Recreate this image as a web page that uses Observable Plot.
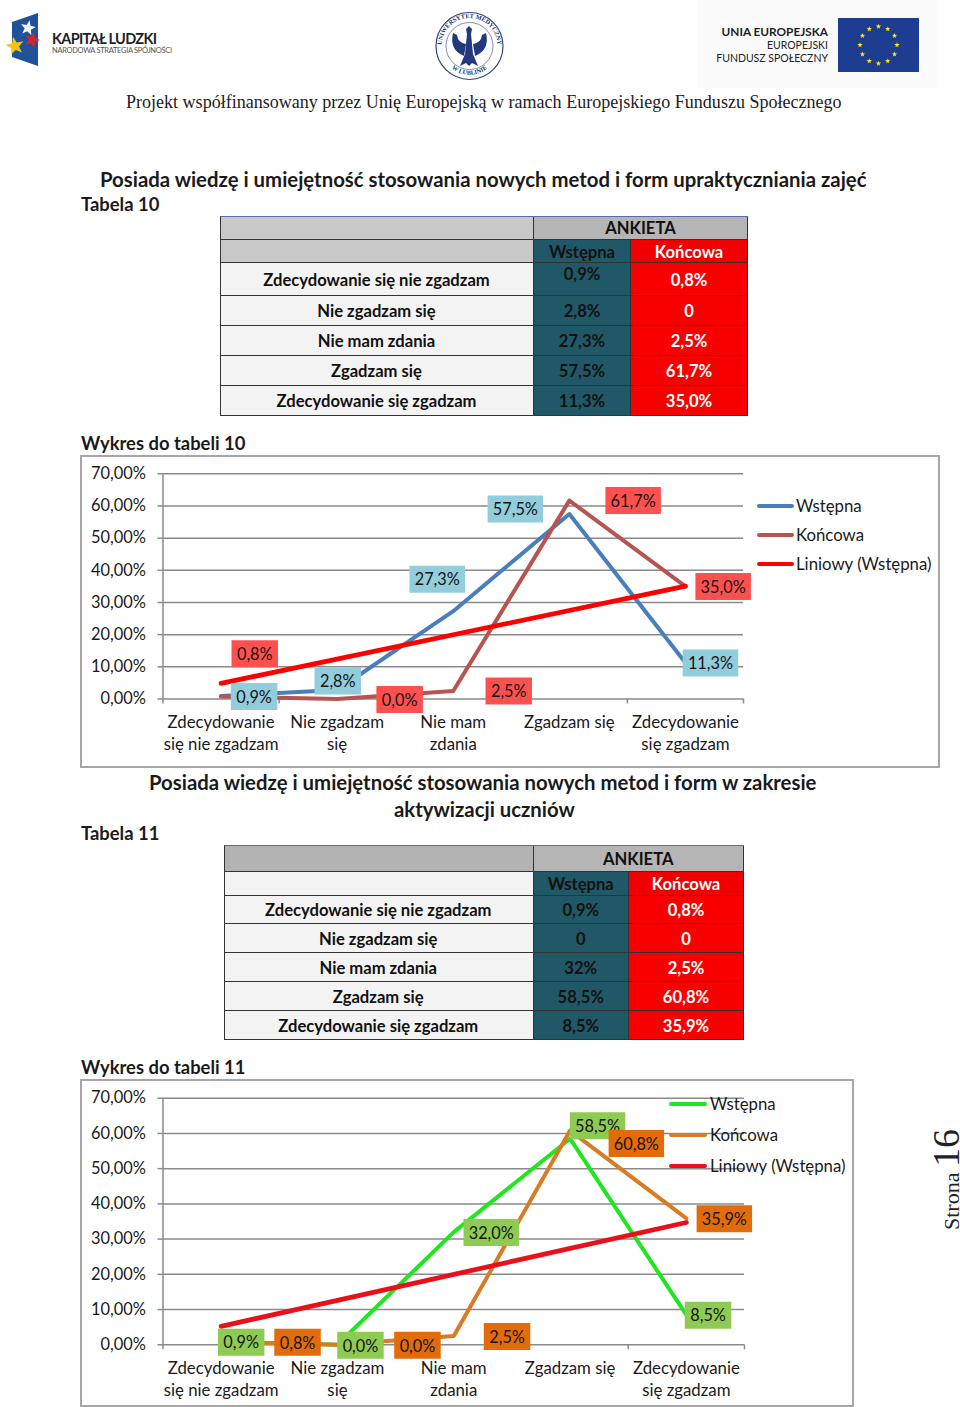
<!DOCTYPE html>
<html lang="pl"><head><meta charset="utf-8">
<script src="https://cdn.jsdelivr.net/npm/d3@7"></script>
<script src="https://cdn.jsdelivr.net/npm/@observablehq/plot@0.6"></script>
<style>
html,body{margin:0;padding:0;background:#fff}
#page{position:relative;width:960px;height:1407px;overflow:hidden;font-family:Lato,sans-serif;color:#1a1a1a}
.t{position:absolute;white-space:nowrap;line-height:1}
.b{font-weight:700}
.c{position:absolute;display:flex;align-items:center;justify-content:center;font-weight:700;font-size:16.6px;box-sizing:border-box}
.frame{position:absolute;border:2px solid #a6a6a6;box-sizing:border-box;background:#fff}
</style></head><body><div id="page"></div>
<script>
// ---- data ----
const categories = ["Zdecydowanie\nsię nie zgadzam","Nie zgadzam\nsię","Nie mam\nzdania","Zgadzam się","Zdecydowanie\nsię zgadzam"];
const rowNames = ["Zdecydowanie się nie zgadzam","Nie zgadzam się","Nie mam zdania","Zgadzam się","Zdecydowanie się zgadzam"];
const yTicks = [0,10,20,30,40,50,60,70];
const wstepna10 = [0.9,2.8,27.3,57.5,11.3];
const koncowa10 = [0.8,0,2.5,61.7,35.0];
const wstepna11 = [0.9,0,32,58.5,8.5];
const koncowa11 = [0.8,0,2.5,60.8,35.9];
const table10W = ["0,9%","2,8%","27,3%","57,5%","11,3%"];
const table10K = ["0,8%","0","2,5%","61,7%","35,0%"];
const table11W = ["0,9%","0","32%","58,5%","8,5%"];
const table11K = ["0,8%","0","2,5%","60,8%","35,9%"];
const seriesNames = ["Wstępna","Końcowa","Liniowy (Wstępna)"];
// label placement, px away from each data point
const offW10 = [[33,0.5],[0.6,-9],[-16,-32],[-54,-5],[25,0.4]];
const offK10 = [[33.7,-42.6],[62.5,0.5],[55.5,0],[63.8,0],[37.7,0]];
const offW11 = [[20,0.5],[23,0.5],[37.5,0.5],[27.5,-13],[21.7,0.4]];
const offK11 = [[76.4,0.3],[80,0.5],[53.3,0.5],[66.3,13],[38,0.5]];

const page = document.getElementById("page");
const el = (html)=>{const d=document.createElement("div");d.innerHTML=html;const n=d.firstElementChild;page.appendChild(n);return n;};
const text = (s,x,y,size,cls="",extra="")=>el(`<div class="t ${cls}" style="left:${x}px;top:${y}px;font-size:${size}px;${extra}">${s}</div>`);

// ---- header ----
const starPath=(cx,cy,R,rot=0)=>"M"+d3.range(10).map(i=>{const r=i%2?R*0.42:R,a=rot+i*Math.PI/5;return `${(cx+r*Math.sin(a)).toFixed(1)} ${(cy-r*Math.cos(a)).toFixed(1)}`}).join("L")+"Z";
const stars = d3.range(12).map(i=>{const a=i*Math.PI/6;return `<path d="${starPath(878.5+18.5*Math.sin(a),45+18.5*Math.cos(a),2.8)}" fill="#ffe500"/>`}).join("");
el(`<svg style="position:absolute;left:0;top:0" width="960" height="92" xmlns="http://www.w3.org/2000/svg">
<rect x="697" y="0" width="241" height="88" fill="#fbfbfb"/>
<path d="M12 22L38 13V66L12 57Z" fill="#1f5298"/>
<path d="${starPath(28,28,8,0.2)}" fill="#f4f4f4"/>
<path d="${starPath(32,40,8,0.3)}" fill="#d8232a"/>
<path d="${starPath(15,46,9.5,-0.2)}" fill="#f2c21a"/>
<text x="52" y="43.5" font-family="Lato" font-weight="700" font-size="14.5" fill="#222" textLength="105">KAPITAŁ LUDZKI</text>
<text x="52" y="53" font-family="Lato" font-size="7.5" fill="#555" textLength="120">NARODOWA STRATEGIA SPÓJNOŚCI</text>
<circle cx="469.5" cy="46" r="33.5" fill="#fff" stroke="#33457f" stroke-width="1.2"/>
<circle cx="469.5" cy="46" r="23.5" fill="none" stroke="#33457f" stroke-width="0.6"/>
<path id="ringT" d="M443 55a28 28 0 1 1 53 0" fill="none"/>
<path id="ringB" d="M449 66a28.5 28.5 0 0 0 41 0" fill="none"/>
<text font-family="Liberation Serif" font-size="6.3" font-weight="700" fill="#22356f"><textPath href="#ringT" startOffset="50%" text-anchor="middle">UNIWERSYTET MEDYCZNY</textPath></text>
<text font-family="Liberation Serif" font-size="6.3" font-weight="700" fill="#22356f"><textPath href="#ringB" startOffset="50%" text-anchor="middle" dy="5">W LUBLINIE</textPath></text>
<path d="M453 33Q449 50 464 56L466 44Q458 43 457 35ZM486 33Q490 50 475 56L473 44Q481 43 482 35Z" fill="#24397d"/>
<path d="M469 26l3 3-1 5 2 20 5 12-6-3-3 3-3-3-6 3 5-12 2-20-1-5z" fill="#24397d"/>
<text x="828" y="36" text-anchor="end" font-family="Lato" font-weight="700" font-size="11.8" fill="#222">UNIA EUROPEJSKA</text>
<text x="828" y="49" text-anchor="end" font-family="Lato" font-size="10.5" fill="#222">EUROPEJSKI</text>
<text x="828" y="62" text-anchor="end" font-family="Lato" font-size="10.5" fill="#222">FUNDUSZ SPOŁECZNY</text>
<rect x="838" y="18" width="81" height="54" fill="#1c3d91"/>${stars}
</svg>`);
text("Projekt współfinansowany przez Unię Europejską w ramach Europejskiego Funduszu Społecznego",126,93,18.05,"","font-family:'Liberation Serif';color:#222");

// ---- headings ----
text("Posiada wiedzę i umiejętność stosowania nowych metod i form upraktyczniania zajęć",100,168.5,20.35,"b");
text("Tabela 10",81,195,18.4,"b");
text("Wykres do tabeli 10",81,434,18.4,"b");
text("Posiada wiedzę i umiejętność stosowania nowych metod i form w zakresie",149,772,20.35,"b");
text("aktywizacji uczniów",394,799,20.35,"b");
text("Tabela 11",81,824,18.4,"b");
text("Wykres do tabeli 11",81,1058,18.4,"b");
el(`<svg style="position:absolute;left:920px;top:1100px" width="40" height="140" xmlns="http://www.w3.org/2000/svg"><text transform="translate(38.5,130) rotate(-90)" font-family="Liberation Serif" fill="#222"><tspan font-size="22">Strona </tspan><tspan font-size="38">16</tspan></text></svg>`);

// ---- tables ----
function table(xs, ys, gray, w, k, nudge){
  const cell=(x0,x1,y0,y1,bg,fg,txt,pad=0)=>el(`<div class="c" style="left:${x0}px;top:${y0}px;width:${x1-x0}px;height:${y1-y0}px;background:${bg};color:${fg};border-bottom:1.3px solid #333;border-right:1px solid #333;padding-top:${pad?0:1.5}px;padding-bottom:${pad}px">${txt}</div>`);
  cell(xs[0],xs[1],ys[0],ys[1],gray,"#111","");
  cell(xs[1],xs[3],ys[0],ys[1],"#b5b5b5","#111","ANKIETA");
  cell(xs[0],xs[1],ys[1],ys[2],gray,"#111","");
  cell(xs[1],xs[2],ys[1],ys[2],"#215867","#111","Wstępna");
  cell(xs[2],xs[3],ys[1],ys[2],"#f00000","#fff","Końcowa");
  rowNames.forEach((n,i)=>{
    cell(xs[0],xs[1],ys[i+2],ys[i+3],"#f3f3f3","#111",n);
    cell(xs[1],xs[2],ys[i+2],ys[i+3],"#215867","#111",w[i],i===0?nudge:0);
    cell(xs[2],xs[3],ys[i+2],ys[i+3],"#f80000","#fff",k[i]);
  });
  el(`<div style="position:absolute;left:${xs[0]}px;top:${ys[0]}px;width:${xs[3]-xs[0]}px;height:${ys[7]-ys[0]}px;border-top:1.8px solid #5c6aa5;border-left:1px solid #333;box-sizing:border-box"></div>`);
}
table([220,534,631,748],[216,239.5,263,296,326,355.5,385.5,415.5],"#c8c8c8",table10W,table10K,10);
table([224,533.5,629,744],[845,871.5,896,924,953,982,1011,1040],"#b3b3b3",table11W,table11K,0);
// pale row beneath the grey header in table 11
el(`<div style="position:absolute;left:225px;top:872px;width:307.5px;height:22.5px;background:#f3f3f3"></div>`);

// ---- charts ----
const fmtY = v=>v.toFixed(2).replace(".",",")+"%";
const fmtL = v=>v.toFixed(1).replace(".",",")+"%";
const box = w=>({draw(ctx){ctx.rect(-w/2,-13.5,w,27);}});
function labelMarks(rows, offs, fill){
  return rows.flatMap((r,i)=>{
    const s=fmtL(r.y), w=s.length>4?55.5:46.5, [dx,dy]=offs[i];
    return [
      Plot.dot([r],{x:"x",y:"y",dx,dy,symbol:box(w),r:1,fill,stroke:"none"}),
      Plot.text([r],{x:"x",y:"y",dx,dy:dy+1,text:()=>s,fontSize:16.3,fill:"#141414"})
    ];
  });
}
function chart({w,k,offW,offK,colW,colK,colT,fillW,fillK,left,top,width,height,mL,mR,mT,mB,pad}){
  const idx=categories.map((_,i)=>i+0.5);
  const rw=w.map((y,i)=>({x:idx[i],y})), rk=k.map((y,i)=>({x:idx[i],y}));
  const svg=Plot.plot({
    width,height,marginLeft:mL,marginRight:mR,marginTop:mT,marginBottom:mB,
    style:{fontFamily:"Lato",fontSize:"16.4px",color:"#1a1a1a",background:"transparent",overflow:"visible"},
    x:{type:"linear",domain:[0,5]},y:{type:"linear",domain:[0,70]},
    marks:[
      Plot.ruleY(yTicks,{stroke:"#8a8a8a",strokeWidth:1.5,strokeOpacity:1}),
      Plot.ruleX([0],{y1:0,y2:70,stroke:"#8a8a8a",strokeWidth:1.5}),
      Plot.axisY({ticks:yTicks,tickFormat:fmtY,tickSize:5,tickPadding:12,stroke:"#8a8a8a",strokeWidth:1.5,label:null,fontSize:16.4,fill:"#1a1a1a"}),
      Plot.axisX({ticks:d3.range(0,6),tickSize:5,tickFormat:()=>"",stroke:"#8a8a8a",strokeWidth:1.5,label:null}),
      Plot.axisX({ticks:idx,tickSize:0,tickPadding:pad,tickFormat:v=>categories[v-0.5],lineHeight:1.33,label:null,fontSize:16.8,fill:"#1a1a1a"}),
      Plot.line(rw,{x:"x",y:"y",stroke:colW,strokeWidth:4,strokeLinecap:"round"}),
      Plot.line(rk,{x:"x",y:"y",stroke:colK,strokeWidth:4,strokeLinecap:"round"}),
      Plot.linearRegressionY(rw,{x:"x",y:"y",ci:0,stroke:colT,strokeWidth:4.8,strokeLinecap:"round"}),
      ...labelMarks(rw,offW,fillW),
      ...labelMarks(rk,offK,fillK)
    ]
  });
  svg.style.position="absolute";svg.style.left=left+"px";svg.style.top=top+"px";
  page.appendChild(svg);
}
function legend(colors, x0, x1, tx, ys){
  seriesNames.forEach((n,i)=>{
    el(`<div style="position:absolute;left:${x0}px;top:${ys[i]-2}px;width:${x1-x0}px;height:4px;border-radius:2px;background:${colors[i]}"></div>`);
    text(n,tx,ys[i]-9,16.8,"","color:#1a1a1a;line-height:18px");
  });
}
el(`<div class="frame" style="left:80px;top:455px;width:860px;height:313px"></div>`);
chart({w:wstepna10,k:koncowa10,offW:offW10,offK:offK10,colW:"#4a7ebb",colK:"#b85450",colT:"#ff0000",fillW:"#92cddc",fillK:"#ff5050",
  left:80,top:456,width:860,height:312,mL:82.5,mR:197,mT:17.3,mB:69.5,pad:13});
legend(["#4a7ebb","#b85450","#ff0000"],757,794,796,[506,535,563.5]);

el(`<div class="frame" style="left:80px;top:1079px;width:774px;height:328px"></div>`);
chart({w:wstepna11,k:koncowa11,offW:offW11,offK:offK11,colW:"#1fe61f",colK:"#d97a24",colT:"#e8101a",fillW:"#8fcb52",fillK:"#e36c0a",
  left:80,top:1080,width:774,height:327,mL:82.5,mR:110,mT:17.7,mB:62.7,pad:13});
legend(["#1fe61f","#d97a24","#e8101a"],669,707,710,[1104,1135,1166]);
</script></body></html>
